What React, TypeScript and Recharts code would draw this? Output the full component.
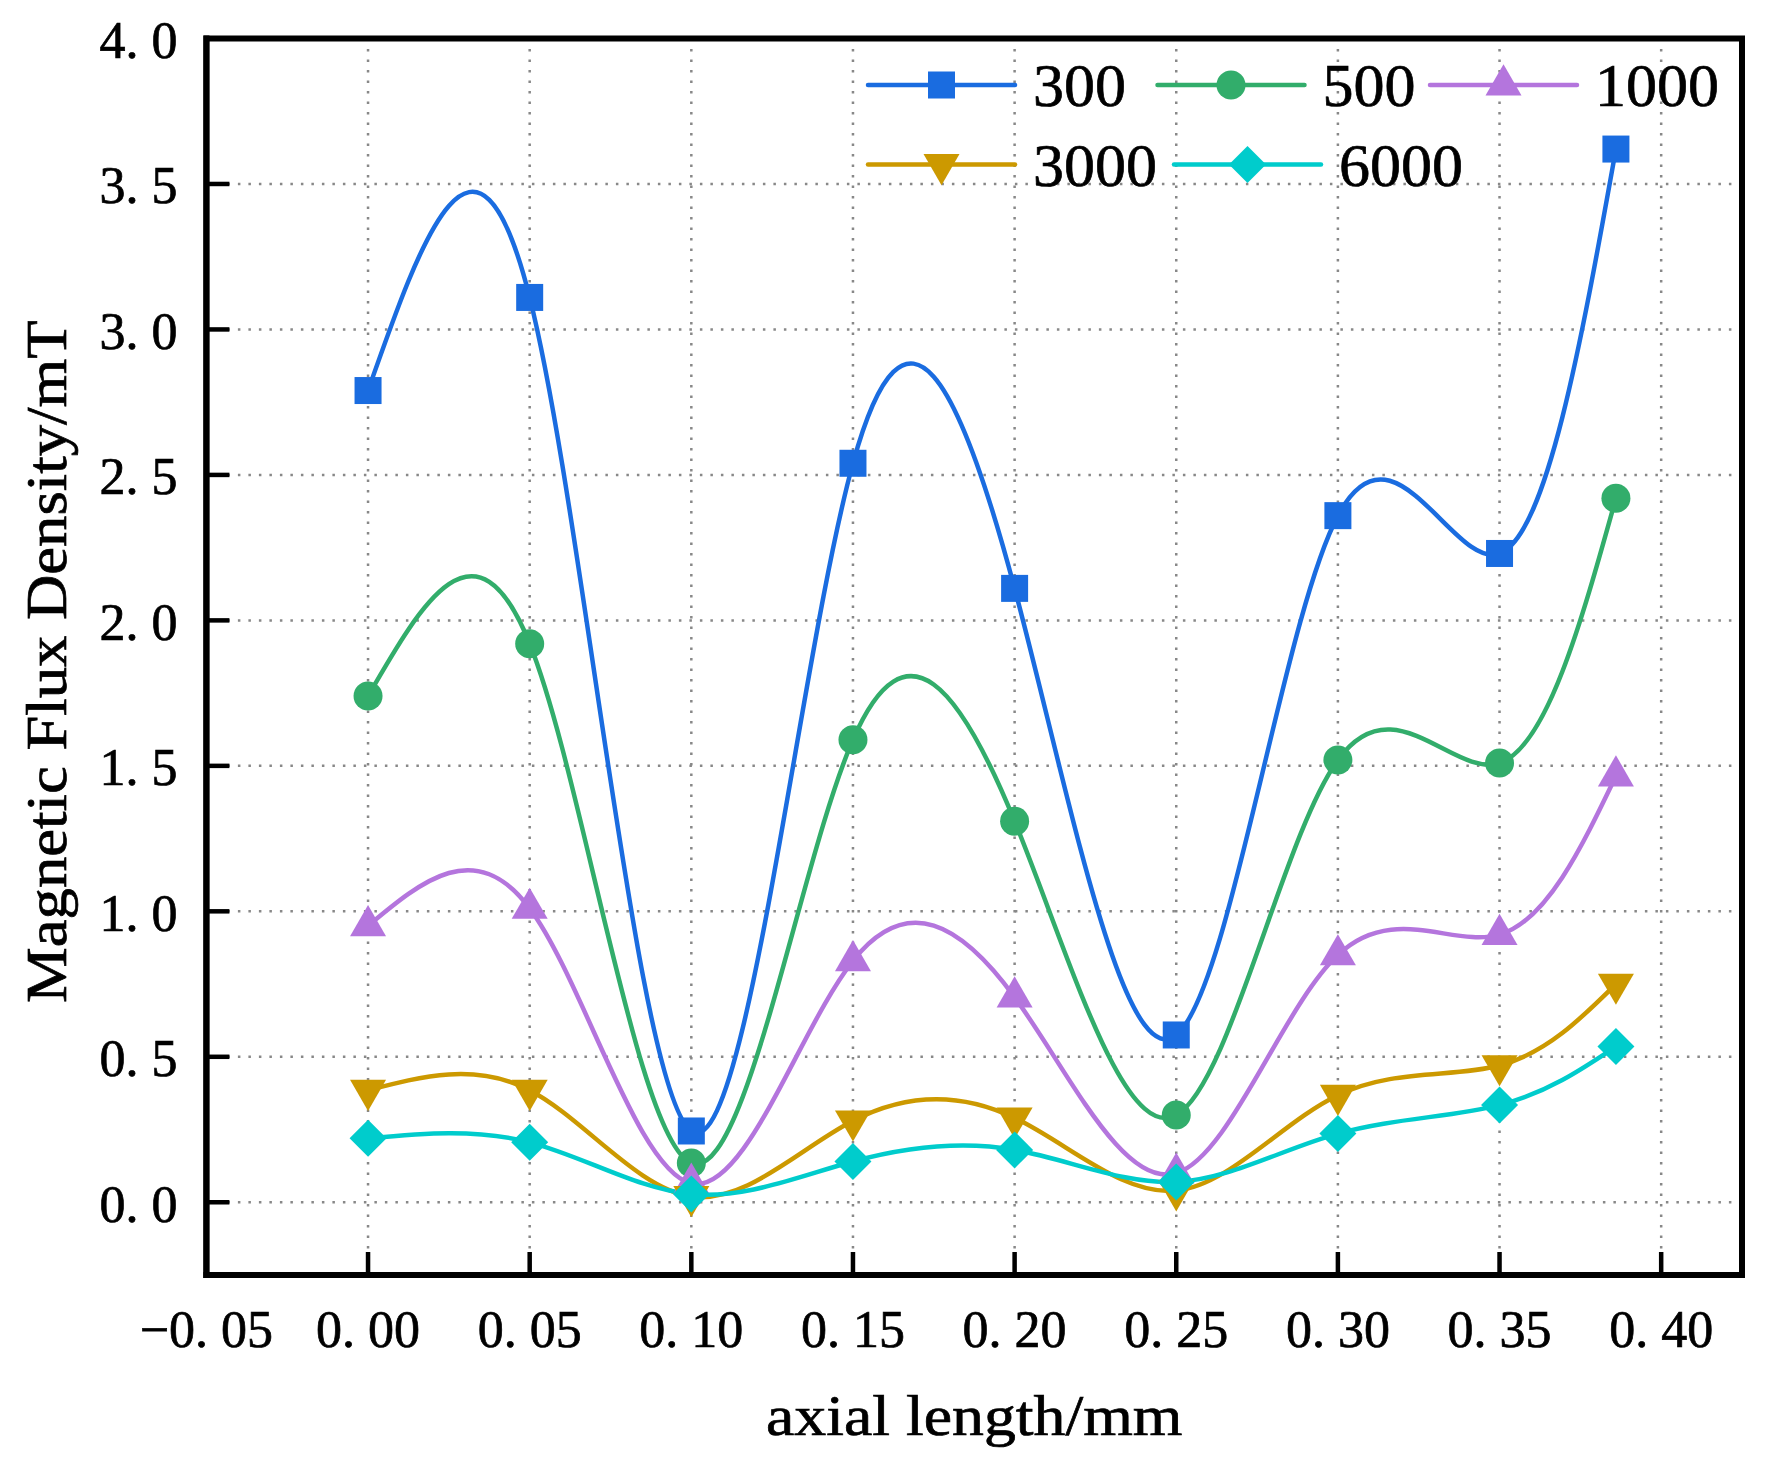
import React from 'react';
import { LineChart, Line, XAxis, YAxis, CartesianGrid, Legend, ReferenceArea } from 'recharts';

// ---------- data ----------
const xValues = [0, 0.05, 0.1, 0.15, 0.2, 0.25, 0.3, 0.35, 0.386];
const s300 = [2.79, 3.11, 0.245, 2.54, 2.11, 0.575, 2.36, 2.23, 3.62];
const s500 = [1.74, 1.92, 0.135, 1.59, 1.31, 0.3, 1.52, 1.51, 2.42];
const s1000 = [0.95, 1.01, 0.065, 0.83, 0.705, 0.1, 0.85, 0.92, 1.465];
const s3000 = [0.385, 0.385, 0.02, 0.28, 0.29, 0.04, 0.368, 0.47, 0.75];
const s6000 = [0.22, 0.206, 0.028, 0.14, 0.18, 0.07, 0.236, 0.334, 0.535];
const seriesNames = ['300', '500', '1000', '3000', '6000'];
const xTicks = [-0.05, 0, 0.05, 0.1, 0.15, 0.2, 0.25, 0.3, 0.35, 0.4];
const yTicks = [0, 0.5, 1, 1.5, 2, 2.5, 3, 3.5, 4];
const xDomain = [-0.05, 0.425];
const yDomain = [-0.25, 4];
const xTitle = 'axial length/mm';
const yTitle = 'Magnetic Flux Density/mT';

const seriesValues = [s300, s500, s1000, s3000, s6000];
const keys = ['s300', 's500', 's1000', 's3000', 's6000'];
const tableData = xValues.map((x, i) => {
  const row: any = { x };
  keys.forEach((k, j) => {
    row[k] = seriesValues[j][i];
  });
  return row;
});

// ---------- styles ----------
const colors = ['#1a6ce0', '#32ad6b', '#b475dd', '#cc9900', '#00cccc'];
const shapes = ['square', 'circle', 'triangle', 'triangleDown', 'diamond'];
const FONT = "'Liberation Serif', 'Times New Roman', serif";
const TEXT_STROKE = 0.7;

function Marker({ shape, cx, cy, color }: any) {
  if (cx == null || cy == null || isNaN(cx) || isNaN(cy)) return <g />;
  const s = 36;
  const h = (s * Math.sqrt(3)) / 2;
  switch (shape) {
    case 'square':
      return <rect x={cx - 13.5} y={cy - 13.5} width={27} height={27} fill={color} />;
    case 'circle':
      return <circle cx={cx} cy={cy} r={14.5} fill={color} />;
    case 'triangle':
      return (
        <polygon
          points={`${cx},${cy - (2 * h) / 3} ${cx - s / 2},${cy + h / 3} ${cx + s / 2},${cy + h / 3}`}
          fill={color}
        />
      );
    case 'triangleDown':
      return (
        <polygon
          points={`${cx},${cy + (2 * h) / 3} ${cx - s / 2},${cy - h / 3} ${cx + s / 2},${cy - h / 3}`}
          fill={color}
        />
      );
    case 'diamond': {
      const d = 18.5;
      return (
        <polygon points={`${cx},${cy - d} ${cx + d},${cy} ${cx},${cy + d} ${cx - d},${cy}`} fill={color} />
      );
    }
    default:
      return <g />;
  }
}

const fmtX = (v: number) => v.toFixed(2).replace('-', '\u2212').replace('.', '. ');
const fmtY = (v: number) => v.toFixed(1).replace('-', '\u2212').replace('.', '. ');

function XTick(props: any) {
  const { x, y, payload } = props;
  return (
    <g>
      <line x1={x} x2={x} y1={y} y2={y - 23} stroke="#000" strokeWidth={4.5} />
      <text
        x={x}
        y={y + 54}
        textAnchor="middle"
        dominantBaseline="central"
        fontFamily={FONT}
        fontSize={52}
        fill="#000"
        stroke="#000"
        strokeWidth={TEXT_STROKE}
      >
        {fmtX(payload.value)}
      </text>
    </g>
  );
}

function YTick(props: any) {
  const { x, y, payload } = props;
  return (
    <g>
      <line x1={x} x2={x + 23} y1={y} y2={y} stroke="#000" strokeWidth={4.5} />
      <text
        x={x - 29}
        y={y + 2}
        textAnchor="end"
        dominantBaseline="central"
        fontFamily={FONT}
        fontSize={52}
        fill="#000"
        stroke="#000"
        strokeWidth={TEXT_STROKE}
      >
        {fmtY(payload.value)}
      </text>
    </g>
  );
}

const legendRows = [[0, 1, 2], [3, 4]];
const legendLayout = [
  { y: 85, starts: [868, 1157.5, 1430] },
  { y: 164.5, starts: [868, 1174] },
];

function LegendContent() {
  return (
    <svg width={1768} height={220} style={{ overflow: 'visible' }}>
      {legendRows.map((row, r) =>
        row.map((si, c) => {
          const sx = legendLayout[r].starts[c];
          const ly = legendLayout[r].y;
          return (
            <g key={`${r}-${c}`}>
              <line x1={sx} x2={sx + 147} y1={ly} y2={ly} stroke={colors[si]} strokeWidth={4.5} strokeLinecap="round" />
              <Marker shape={shapes[si]} cx={sx + 73.5} cy={ly} color={colors[si]} />
              <text
                x={sx + 165}
                y={ly}
                dominantBaseline="central"
                fontFamily={FONT}
                fontSize={62}
                fill="#000"
                stroke="#000"
                strokeWidth={TEXT_STROKE}
              >
                {seriesNames[si]}
              </text>
            </g>
          );
        })
      )}
    </svg>
  );
}

const axisLineStyle = { stroke: '#000', strokeWidth: 6, strokeLinecap: 'square' as const };

export default function App() {
  return (
    <div style={{ position: 'absolute', left: 0, top: 0, width: 1768, height: 1468, background: '#fff' }}>
      <LineChart
        width={1768}
        height={1468}
        data={tableData}
        margin={{ top: 38.5, right: 26, bottom: 43, left: 0 }}
      >
        <CartesianGrid stroke="#888" strokeWidth={2.5} strokeDasharray="2.5 8" />
        <XAxis
          dataKey="x"
          type="number"
          domain={xDomain}
          ticks={xTicks}
          interval={0}
          allowDataOverflow
          height={150}
          tickSize={0}
          tickMargin={0}
          tickLine={false}
          axisLine={axisLineStyle}
          tick={(p: any) => <XTick {...p} />}
          label={{
            content: (p: any) => {
              const vb = p.viewBox;
              const cx = vb.x + vb.width / 2;
              return (
                <text
                  transform={`translate(${cx}, ${vb.y + 160}) scale(1.12, 1)`}
                  x={0}
                  y={0}
                  textAnchor="middle"
                  fontFamily={FONT}
                  fontSize={57}
                  fill="#000"
                  stroke="#000"
                  strokeWidth={TEXT_STROKE}
                >
                  {xTitle}
                </text>
              );
            },
          }}
        />
        <YAxis
          type="number"
          domain={yDomain}
          ticks={yTicks}
          interval={0}
          allowDataOverflow
          width={206.4}
          tickSize={0}
          tickMargin={0}
          tickLine={false}
          axisLine={axisLineStyle}
          tick={(p: any) => <YTick {...p} />}
          label={{
            content: (p: any) => {
              const vb = p.viewBox;
              const cy = vb.y + vb.height / 2 + 5;
              return (
                <text
                  transform={`translate(66, ${cy}) rotate(-90) scale(1.1, 1)`}
                  x={0}
                  y={0}
                  textAnchor="middle"
                  fontFamily={FONT}
                  fontSize={57}
                  fill="#000"
                  stroke="#000"
                  strokeWidth={TEXT_STROKE}
                >
                  {yTitle}
                </text>
              );
            },
          }}
        />
        <ReferenceArea
          x1={xDomain[0]}
          x2={xDomain[1]}
          y1={yDomain[0]}
          y2={yDomain[1]}
          ifOverflow="visible"
          fill="none"
          fillOpacity={0}
          stroke="#000"
          strokeWidth={6}
          strokeOpacity={1}
        />
        {keys.map((k, i) => (
          <Line
            key={k}
            dataKey={k}
            name={seriesNames[i]}
            type="natural"
            stroke={colors[i]}
            strokeWidth={4.5}
            strokeLinecap="round"
            strokeLinejoin="round"
            isAnimationActive={false}
            activeDot={false}
            dot={(p: any) => (
              <Marker key={`${k}-${p.index}`} shape={shapes[i]} cx={p.cx} cy={p.cy} color={colors[i]} />
            )}
          />
        ))}
        <Legend
          layout="vertical"
          align="center"
          verticalAlign="middle"
          wrapperStyle={{ left: 0, top: 0, width: 1768, height: 220, pointerEvents: 'none' }}
          content={() => <LegendContent />}
        />
      </LineChart>
    </div>
  );
}
